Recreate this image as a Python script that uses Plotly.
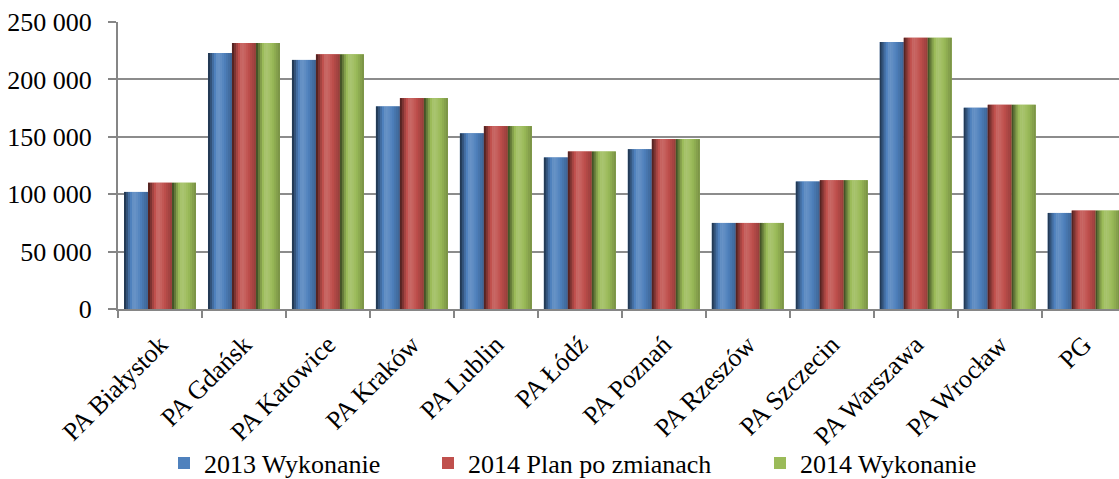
import plotly.graph_objects as go

# --- data ---
categories = ["PA Białystok", "PA Gdańsk", "PA Katowice", "PA Kraków", "PA Lublin",
              "PA Łódź", "PA Poznań", "PA Rzeszów", "PA Szczecin", "PA Warszawa",
              "PA Wrocław", "PG"]
wyk_2013 = [102000, 223000, 217000, 176500, 153000, 132000, 139200, 75000, 111000, 232600, 175300, 83700]
plan_2014 = [110000, 231700, 221800, 183700, 159300, 137200, 148000, 75000, 112200, 236300, 177900, 85700]
wyk_2014 = [110000, 231700, 221800, 183700, 159300, 137200, 148000, 75000, 112200, 236300, 177900, 85700]

series_names = ["2013 Wykonanie", "2014 Plan po zmianach", "2014 Wykonanie"]
series_vals = [wyk_2013, plan_2014, wyk_2014]
colors = ["#4F81BD", "#C0504D", "#9BBB59"]

y_ticks = [0, 50000, 100000, 150000, 200000, 250000]
y_labels = ["0", "50 000", "100 000", "150 000", "200 000", "250 000"]

FONT = "Liberation Serif"
GROUP = 0.857          # share of a category taken by the three bars
W = GROUP / 3          # one bar
# brightness across one bar, left to right (cylinder-like shading)
SHADE = [0.45, 0.65, 0.85, 1.0, 1.12, 1.14, 1.1, 1.04, 0.98, 0.92, 0.86, 0.8]


def shade(hex_col, f):
    r, g, b = (int(hex_col[i:i + 2], 16) for i in (1, 3, 5))
    if f <= 1:
        r, g, b = r * f, g * f, b * f
    else:
        k = f - 1
        r, g, b = r + (255 - r) * k, g + (255 - g) * k, b + (255 - b) * k
    return "rgb(%d,%d,%d)" % (r, g, b)


fig = go.Figure()
legend_ids = ["legend", "legend2", "legend3"]
for i, (name, vals, col) in enumerate(zip(series_names, series_vals, colors)):
    left = -GROUP / 2 + i * W
    # base bar (also the legend entry)
    fig.add_trace(go.Bar(
        x=categories, y=vals, name=name, offset=left, width=W,
        marker=dict(color=col, line=dict(width=0)),
        legend=legend_ids[i], hoverinfo="y",
    ))
    # shading stripes
    sw = W / len(SHADE)
    for j, f in enumerate(SHADE):
        fig.add_trace(go.Bar(
            x=categories, y=vals, offset=left + j * sw, width=sw * 1.02,
            marker=dict(color=shade(col, f), line=dict(width=0)),
            showlegend=False, hoverinfo="skip",
        ))

leg = dict(orientation="h", xref="container", yref="container", y=0.033, yanchor="middle",
           xanchor="left", font=dict(family=FONT, size=26), bgcolor="rgba(0,0,0,0)")
fig.update_layout(
    width=1119, height=479,
    margin=dict(l=118, r=0, t=22, b=170, autoexpand=False),
    paper_bgcolor="white", plot_bgcolor="white",
    barmode="overlay",
    font=dict(family=FONT, size=26, color="black"),
    showlegend=True,
    legend=dict(leg, x=(183 - 19) / 1119),
    legend2=dict(leg, x=(447 - 19) / 1119),
    legend3=dict(leg, x=(779 - 19) / 1119),
)

fig.update_xaxes(
    range=[-0.5, 11.42], automargin=False,
    tickangle=-45, tickson="boundaries", ticks="outside", ticklen=7,
    tickcolor="#868686", tickwidth=2, ticklabelstandoff=8,
    showline=True, linecolor="#868686", linewidth=2,
    showgrid=False, tickfont=dict(family=FONT, size=26),
)
fig.update_yaxes(
    range=[0, 250000], tickvals=y_ticks, ticktext=y_labels, automargin=False,
    ticks="outside", ticklen=8, tickcolor="#868686", tickwidth=2, ticklabelstandoff=11,
    showline=True, linecolor="#868686", linewidth=2,
    showgrid=True, gridcolor="#8c8c8c", gridwidth=2,
    zeroline=False, tickfont=dict(family=FONT, size=26),
)

# drop the browser's default 8px page margin so the figure fills the window
fig.write_html("out.html", config={"displayModeBar": False},
               post_script="document.body.style.margin='0';")
